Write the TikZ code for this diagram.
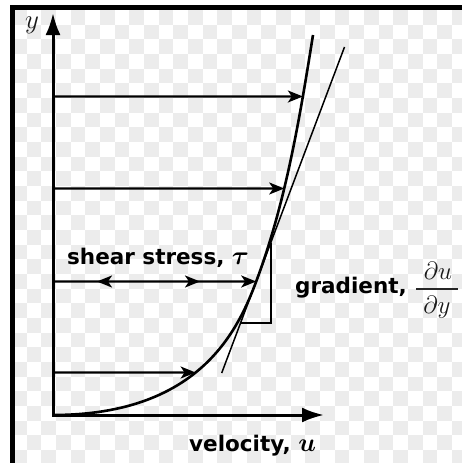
\RequirePackage{fix-cm}
\documentclass[tikz,border=0pt]{standalone}
\usepackage{fontspec}
\newfontfamily\labfont{DejaVu Sans}
\usetikzlibrary{arrows.meta,intersections,decorations.markings}
\definecolor{checkgray}{HTML}{ECECEC}
\begin{document}
\begin{tikzpicture}[x=1pt,y=-1pt,
  axisline/.style={line width=3pt,{Latex[length=22pt,width=15pt]}-{Latex[length=22pt,width=15pt]}},
  headtip/.tip={Stealth[length=15pt,width=12pt,inset=4pt]},
  velarrow/.style={line width=2.2pt,-headtip},
  profile/.style={line width=2.6pt},
  thinline/.style={line width=1.5pt},
  lab/.style={font=\labfont\bfseries\fontsize{21.5}{26}\selectfont, inner sep=0pt},
  mathlab/.style={text=black!90, inner sep=0pt, font=\fontsize{25}{29}\selectfont}
]
\useasboundingbox (0,0) rectangle (462,463);
\fill[white] (0,0) rectangle (462,463);
% checkerboard background
\begin{scope}
\clip (12,10) rectangle (462,463);
\foreach \i in {0,...,30}{
  \foreach \j in {0,...,30}{
    \pgfmathtruncatemacro\cc{mod(\i+\j,2)}
    \ifnum\cc=0
      \fill[checkgray] ({12+\i*14.67},{10+\j*14.67}) rectangle ++(14.67,14.67);
    \fi
  }
}
\end{scope}
% frame
\draw[line width=5pt] (12,463) -- (12,7) -- (462,7);
% axes
\coordinate (O) at (53,415);
\coordinate (ytip) at (53,13);
\coordinate (xtip) at (324,415);
\draw[axisline] (ytip) -- (O) -- (xtip);
% velocity profile
\coordinate (ctop) at (313,35);
\coordinate (cmid) at (256,282);
\draw[profile, name path=curve] (O) .. controls (198,415) and (237.2,332) .. (cmid)
   .. controls (286.1,202) and (300.2,115) .. (ctop);
% tangent line
\coordinate (t1) at (221.7,373);
\coordinate (t2) at (344.5,47);
\draw[thinline] (t1) -- (t2);
% gradient triangle
\coordinate (tr1) at (240,323);
\coordinate (tr2) at (271,323);
\coordinate (tr3) at (271,243);
\draw[thinline, line join=miter] (tr1) -- (tr2) -- (tr3);
% velocity arrows
\foreach \yy/\nm in {96.5/a,188.5/b,281.5/c,372.5/d}{
  \coordinate (s\nm) at (53,\yy);
  \path[name path=h\nm] (53,\yy) -- (420,\yy);
  \path[name intersections={of=curve and h\nm, by={e\nm}}];
}
\draw[velarrow] (sa) -- (ea);
\draw[velarrow] (sb) -- (eb);
\draw[velarrow] (sd) -- (ed);
\draw[velarrow, postaction={decorate}, decoration={markings,
   mark=at position 44pt with {\arrowreversed{headtip}},
   mark=at position 147pt with {\arrow{headtip}}}] (sc) -- (ec);
% labels
\node[mathlab, font=\fontsize{27}{30}\selectfont, anchor=base] (ylab) at (32,28) {$y$};
\node[lab, anchor=base west] (shear) at (67,264) {shear stress, {\fontsize{26}{30}\selectfont\boldmath$\tau$}};
\node[lab, anchor=base west] (grad) at (295,293) {gradient,};
\node[mathlab, anchor=base] (num) at (438,279) {$\partial u$};
\node[mathlab, anchor=base] (den) at (437,313) {$\partial y$};
\coordinate (fb1) at (416,289);
\coordinate (fb2) at (458,289);
\draw[line width=1.4pt, black!85] (fb1) -- (fb2);
\node[lab, anchor=base west] (vel) at (189,451) {velocity, {\fontsize{26}{30}\selectfont\boldmath$u$}};
\end{tikzpicture}
\end{document}
